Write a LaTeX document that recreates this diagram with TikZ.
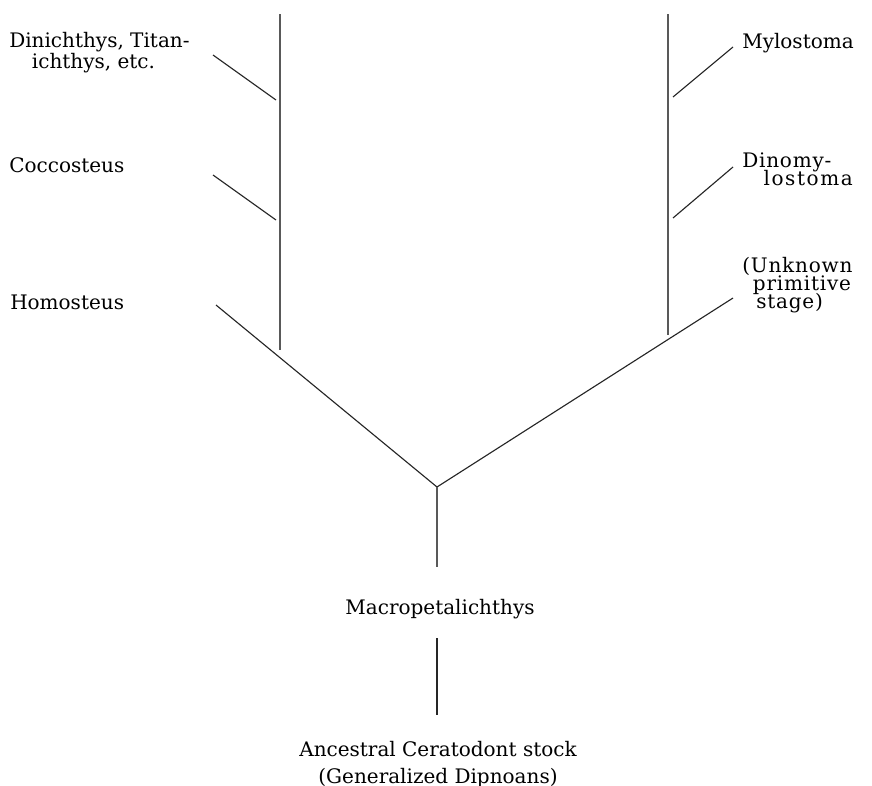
\documentclass[tikz,border=0pt]{standalone}
\usepackage{amsmath}
\usepackage{amssymb}
\usepackage{fontspec}
\setmainfont{DejaVu Serif}
\usepackage{tikz}
\newcommand{\tightlines}{\lineskiplimit=-20pt\relax}

\begin{document}
\begin{tikzpicture}[x=0.75pt,y=0.75pt,yscale=-1,xscale=1,
  lbl/.style={anchor=north west,inner sep=0pt,align=left,font={\fontsize{15}{15.5}\selectfont\tightlines}},
  rlbl/.style={lbl,font={\fontsize{15}{13.5}\selectfont\tightlines\addfontfeature{LetterSpace=4}}},
  ln/.style={draw=black!85,line width=0.85pt},
  stem/.style={draw=black!65,line width=0.85pt}]
%set diagram left start at 0, and has height of 786
\useasboundingbox (0,0) rectangle (872,786);

% Text Node
\node [lbl] (dinich) at (9,32) {Dinichthys, Titan-\\\hspace{17pt}ichthys, etc.};
% Text Node
\node [lbl] (cocco) at (9,157) {Coccosteus};
% Text Node
\node [lbl] (homo) at (10,295) {Homosteus};
% Text Node
\node [lbl] (mylo) at (742,33) {Mylostoma};
% Text Node
\node [rlbl] (dinomy) at (742,153)
  {Dinomy-\\\hspace{16pt}{\addfontfeature{LetterSpace=8}lostoma}};
% Text Node
\node [rlbl] (unknown) at (742,257)
  {(Unknown\\\hspace{8pt}primitive\\\hspace{10.5pt}stage)};
% Text Node
\node [inner sep=0pt,font=\fontsize{15}{15.5}\selectfont] (macro) at (440,609) {Macropetalichthys};
% Text Node
\node [anchor=north,inner sep=0pt,align=center,font=\fontsize{15}{20}\selectfont] (ancestral) at (438,741) {Ancestral Ceratodont stock\\(Generalized Dipnoans)};

%Coordinates of the tree
\coordinate (ltop) at (280,14);
\coordinate (lbot) at (280,350);
\coordinate (rtop) at (668,14);
\coordinate (rbot) at (668,335);
\coordinate (root) at (437,487);
\coordinate (stemend) at (437,567);
\coordinate (lowtop) at (437,638);
\coordinate (lowbot) at (437,715);
\coordinate (dinichA) at (213,55);
\coordinate (dinichB) at (276,100);
\coordinate (coccoA) at (213,175);
\coordinate (coccoB) at (276,220);
\coordinate (homoA) at (216,305);
\coordinate (myloA) at (733,47);
\coordinate (myloB) at (673,97);
\coordinate (dinomyA) at (733,167);
\coordinate (dinomyB) at (673,218);
\coordinate (unknownA) at (733,298);

%Straight Lines
\draw [stem] (ltop) -- (lbot) ;
\draw [stem] (rtop) -- (rbot) ;
\draw [ln] (dinichA) -- (dinichB) ;
\draw [ln] (coccoA) -- (coccoB) ;
\draw [ln] (homoA) -- (root) ;
\draw [ln] (root) -- (unknownA) ;
\draw [ln] (myloA) -- (myloB) ;
\draw [ln] (dinomyA) -- (dinomyB) ;
\draw [stem] (root) -- (stemend) ;
\draw [ln] (lowtop) -- (lowbot) ;

\end{tikzpicture}
\end{document}
